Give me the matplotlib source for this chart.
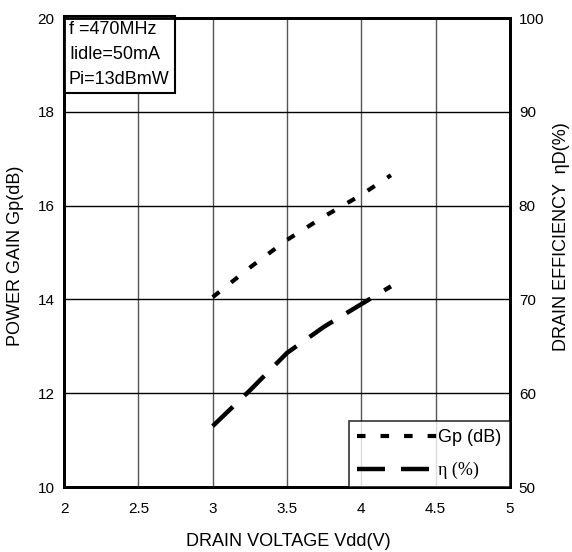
import matplotlib
matplotlib.use("Agg")
import matplotlib.pyplot as plt
from matplotlib.lines import Line2D

plt.rcParams['font.family'] = ['Liberation Sans', 'DejaVu Sans']

vdd = [3.0, 3.25, 3.5, 3.75, 4.0, 4.2]
gp_db = [14.05, 14.68, 15.27, 15.77, 16.23, 16.65]
eff_pct = [56.5, 60.3, 64.3, 67.1, 69.5, 71.4]

x_ticks = [2, 2.5, 3, 3.5, 4, 4.5, 5]
x_tick_labels = ['2', '2.5', '3', '3.5', '4', '4.5', '5']
gp_ticks = [10, 12, 14, 16, 18, 20]
eff_ticks = [50, 60, 70, 80, 90, 100]

W, H = 572, 552
fig = plt.figure(figsize=(W / 100, H / 100), dpi=100)
ax = fig.add_axes([64.1 / W, (H - 487.1) / H, 445.7 / W, 469.0 / H])
ax2 = ax.twinx()

ax.set_xlim(2, 5)
ax.set_ylim(10, 20)
ax2.set_ylim(50, 100)

for xv in x_ticks[1:-1]:
    ax.axvline(xv, color='#555555', lw=1.0, zorder=1)
for yv in gp_ticks[1:-1]:
    ax.axhline(yv, color='black', lw=1.0, zorder=1)

gp_style = dict(color='black', lw=3.0, dashes=(2.05, 3.6), dash_capstyle='butt')
eff_style = dict(color='black', lw=3.2, dashes=(6.3, 3.6), dash_capstyle='butt')

ax.plot(vdd, gp_db, zorder=3, **gp_style)
ax2.plot(vdd, eff_pct, zorder=3, **eff_style)

ax.set_xticks(x_ticks)
ax.set_xticklabels(x_tick_labels)
ax.set_yticks(gp_ticks)
ax2.set_yticks(eff_ticks)
ax.tick_params(axis='x', length=0, labelsize=11, pad=10.5)
ax.tick_params(axis='y', length=0, labelsize=11, pad=7)
ax2.tick_params(axis='y', length=0, labelsize=11, pad=6.5)
for a in (ax, ax2):
    for s in a.spines.values():
        s.set_linewidth(2.0)

ax.set_xlabel('DRAIN VOLTAGE Vdd(V)', fontsize=13)
ax.set_ylabel('POWER GAIN Gp(dB)', fontsize=13)
ax2.set_ylabel('DRAIN EFFICIENCY  ηD(%)', fontsize=13)

# label placement (pixel centres)
def px_to_axes(xp, yp):
    return (xp - 64.1) / 445.7, (487.1 - yp) / 469.0

for lab in (ax.xaxis.label, ax.yaxis.label, ax2.yaxis.label):
    lab.set_rotation_mode('anchor')
    lab.set_ha('center')
    lab.set_va('center')
ax.xaxis.set_label_coords(*px_to_axes(288, 541))
ax.yaxis.set_label_coords(*px_to_axes(16, 256))
ax2.yaxis.set_label_coords(*px_to_axes(562, 237))

tx, ty = px_to_axes(69, 21)
ax.text(tx, ty, 'f =470MHz\nIidle=50mA\nPi=13dBmW', transform=ax.transAxes,
        ha='left', va='top', fontsize=13, linespacing=1.6, zorder=5,
        bbox=dict(boxstyle='square,pad=0.3', facecolor='white', edgecolor='black', lw=1.5))

handles = [Line2D([], [], **gp_style), Line2D([], [], **eff_style)]
leg = ax2.legend(handles, ['Gp (dB)', 'η (%)'], loc='lower right', fontsize=13,
                 frameon=True, fancybox=False, borderaxespad=0.0, handlelength=4.4,
                 handletextpad=0.1, labelspacing=0.85, borderpad=0.45)
leg.get_frame().set_edgecolor('black')
leg.get_frame().set_linewidth(1.2)
leg.get_texts()[1].set_family(['Liberation Serif', 'DejaVu Serif'])

fig.savefig('out.png', dpi=100)
